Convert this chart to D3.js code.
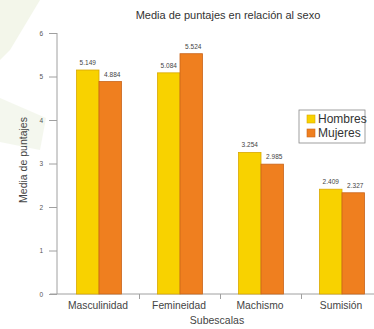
<!DOCTYPE html>
<html>
<head>
<meta charset="utf-8">
<script src="https://cdn.jsdelivr.net/npm/d3@7"></script>
<style>
  html, body { margin: 0; padding: 0; background: #fff; overflow: hidden; }
  svg { display: block; font-family: "Liberation Sans", Arial, sans-serif; }
</style>
</head>
<body>
<svg id="chart" width="374" height="329"></svg>
<script>
// Mean scores by subscale and sex
const categories = ["Masculinidad", "Femineidad", "Machismo", "Sumisión"];
const series = ["Hombres", "Mujeres"];
const hombres = [5.149, 5.084, 3.254, 2.409];
const mujeres = [4.884, 5.524, 2.985, 2.327];
const yTicks = [0, 1, 2, 3, 4, 5, 6];
const colors = ["#f8d200", "#ef7f1f"];
const strokes = ["#d9a800", "#c9641a"];

const values = [hombres, mujeres];
const svg = d3.select("#chart");

// faint green decoration at the upper left
const deco = svg.append("g").attr("opacity", 0.35);
deco.append("path").attr("d", "M0,0 L40,0 L10,50 L0,60 Z").attr("fill", "#dde8c4");
deco.append("path").attr("d", "M0,98 L46,118 L40,150 L0,142 Z").attr("fill", "#e2ebd0");

const x = d3.scaleBand().domain(categories).range([58.5, 382.5]);
const y = d3.scaleLinear().domain([0, 6]).range([294, 33]);
const barW = 22.5;

// axes
const yAxis = d3.axisLeft(y).tickValues(yTicks).tickFormat(d3.format("d")).tickSize(8).tickPadding(6);
const gy = svg.append("g").attr("transform", "translate(57,0)").call(yAxis);
gy.select(".domain").attr("stroke", "#a0a0a0").attr("d", "M0,33V294");
gy.selectAll(".tick line").attr("stroke", "#a0a0a0").attr("x1", -8).attr("x2", 0);
gy.selectAll(".tick text").attr("fill", "#555").attr("font-size", 6.5);

const gx = svg.append("g").attr("transform", "translate(0,294)");
gx.append("line").attr("x1", 50).attr("x2", 382).attr("stroke", "#a0a0a0");
gx.selectAll(".sep").data(categories.slice(1)).join("line")
  .attr("x1", d => x(d)).attr("x2", d => x(d))
  .attr("y1", 0).attr("y2", 5).attr("stroke", "#a0a0a0");
gx.selectAll(".cat").data(categories).join("text")
  .attr("x", d => x(d) + x.bandwidth() / 2 - 1)
  .attr("y", 15)
  .attr("text-anchor", "middle")
  .attr("font-size", 10.3)
  .attr("fill", "#444")
  .text(d => d);

// bars
series.forEach((s, si) => {
  const g = svg.append("g");
  g.selectAll("rect").data(categories).join("rect")
    .attr("x", d => x(d) + x.bandwidth() / 2 - barW + si * barW)
    .attr("y", (d, i) => y(values[si][i]))
    .attr("width", barW)
    .attr("height", (d, i) => y(0) - y(values[si][i]))
    .attr("fill", colors[si])
    .attr("stroke", strokes[si])
    .attr("stroke-width", 0.8);
  g.selectAll("text").data(categories).join("text")
    .attr("x", d => x(d) + x.bandwidth() / 2 - barW / 2 + si * barW + (si === 1 ? 2 : 0))
    .attr("y", (d, i) => y(values[si][i]) - 5)
    .attr("text-anchor", "middle")
    .attr("font-size", 6.5)
    .attr("fill", "#444")
    .text((d, i) => d3.format(".3f")(values[si][i]));
});

// title and axis labels
svg.append("text").attr("x", 228).attr("y", 19).attr("text-anchor", "middle")
  .attr("font-size", 11).attr("fill", "#333").text("Media de puntajes en relación al sexo");
svg.append("text").attr("x", 217).attr("y", 324).attr("text-anchor", "middle")
  .attr("font-size", 10.5).attr("fill", "#444").text("Subescalas");
svg.append("text").attr("transform", "translate(27,160) rotate(-90)").attr("text-anchor", "middle")
  .attr("font-size", 10.5).attr("fill", "#444").text("Media de puntajes");

// legend
const lg = svg.append("g").attr("transform", "translate(299,110)");
lg.append("rect").attr("width", 66).attr("height", 33).attr("fill", "#fff")
  .attr("stroke", "#888").attr("stroke-width", 0.8);
series.forEach((s, i) => {
  lg.append("rect").attr("x", 8).attr("y", 5 + i * 14).attr("width", 8).attr("height", 8)
    .attr("fill", colors[i]).attr("stroke", strokes[i]).attr("stroke-width", 0.6);
  lg.append("text").attr("x", 19).attr("y", 13 + i * 14).attr("font-size", 12)
    .attr("fill", "#333").text(s);
});
</script>
</body>
</html>
